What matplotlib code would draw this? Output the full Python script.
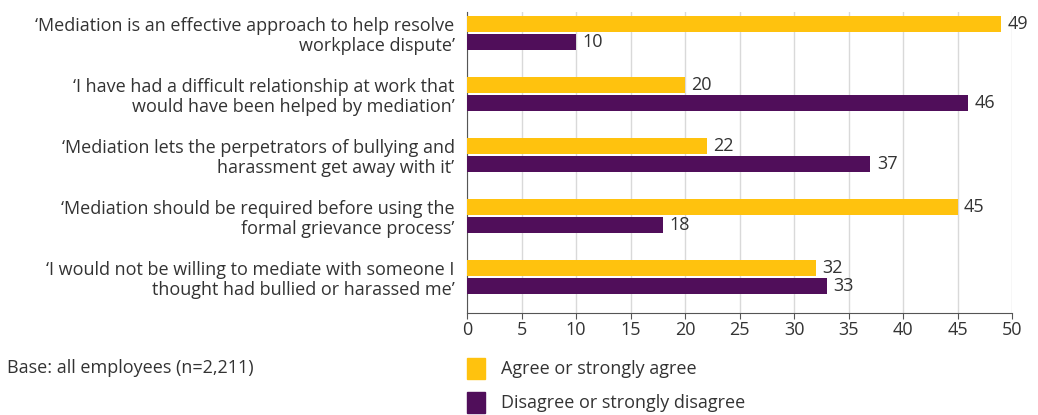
import matplotlib.pyplot as plt
import numpy as np
from matplotlib.patches import Rectangle

statements = [
    "\u2018Mediation is an effective approach to help resolve\nworkplace dispute\u2019",
    "\u2018I have had a difficult relationship at work that\nwould have been helped by mediation\u2019",
    "\u2018Mediation lets the perpetrators of bullying and\nharassment get away with it\u2019",
    "\u2018Mediation should be required before using the\nformal grievance process\u2019",
    "\u2018I would not be willing to mediate with someone I\nthought had bullied or harassed me\u2019",
]
agree = [49, 20, 22, 45, 32]
disagree = [10, 46, 37, 18, 33]
series_names = ["Agree or strongly agree", "Disagree or strongly disagree"]
xticks = list(range(0, 51, 5))

yellow = "#FFC20E"
purple = "#500E5A"
text_col = "#333333"
fs = 13

plt.rcParams["font.family"] = ["Open Sans", "DejaVu Sans"]

fig = plt.figure(figsize=(10.38, 4.15), dpi=100)
ax = fig.add_axes([0.450, 0.246, 0.525, 0.725])

y = np.arange(len(statements))
h = 0.26
ax.barh(y - 0.145, agree, height=h, color=yellow, zorder=3)
ax.barh(y + 0.145, disagree, height=h, color=purple, zorder=3)

for yi, a, d in zip(y, agree, disagree):
    ax.text(a + 0.6, yi - 0.145, str(a), va="center", ha="left", fontsize=fs, color=text_col)
    ax.text(d + 0.6, yi + 0.145, str(d), va="center", ha="left", fontsize=fs, color=text_col)

ax.set_ylim(4.59, -0.344)
ax.set_xlim(0, 50)
ax.set_xticks(xticks)
ax.set_xticklabels([str(t) for t in xticks], fontsize=fs, color=text_col)
ax.set_yticks(y)
ax.set_yticklabels(statements, fontsize=fs, color=text_col, linespacing=1.15)
ax.tick_params(axis="y", length=0, pad=9)
ax.tick_params(axis="x", length=4, color="#555555", pad=2)
ax.grid(axis="x", color="#d9d9d9", linewidth=1, zorder=0)
for s in ["top", "right"]:
    ax.spines[s].set_visible(False)
ax.spines["left"].set_color("#555555")
ax.spines["bottom"].set_color("#555555")

# legend drawn as squares plus text below the axis
for i, (name, col) in enumerate(zip(series_names, [yellow, purple])):
    yy = 0.112 - i * 0.082
    fig.patches.append(Rectangle((0.450, yy - 0.025), 0.0175, 0.05, transform=fig.transFigure,
                                 color=col, zorder=3))
    fig.text(0.483, yy, name, va="center", ha="left", fontsize=fs, color=text_col)

fig.text(0.007, 0.113, "Base: all employees (n=2,211)", va="center", ha="left",
         fontsize=fs, color=text_col)

fig.savefig("out.png", dpi=100)
